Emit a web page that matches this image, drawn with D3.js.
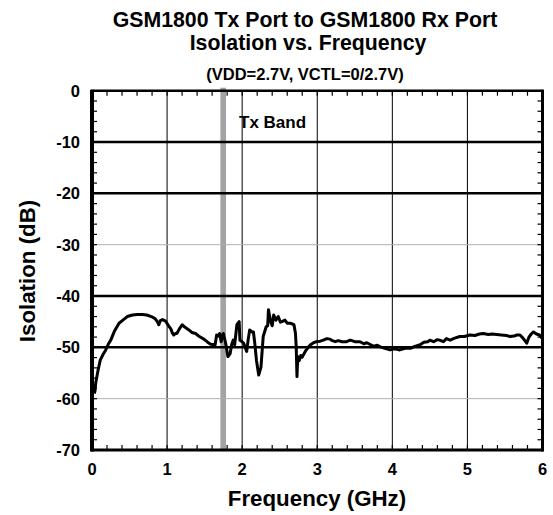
<!DOCTYPE html>
<html><head><meta charset="utf-8">
<script src="https://cdn.jsdelivr.net/npm/d3@7"></script>
<style>
html,body{margin:0;padding:0;background:#fff;}
svg text{font-family:"Liberation Sans",Arial,sans-serif;font-weight:bold;fill:#000;}
</style></head><body>
<svg id="c" width="553" height="515"></svg>
<script>
const titleLines = ["GSM1800 Tx Port to GSM1800 Rx Port", "Isolation vs. Frequency"];
const subtitle = "(VDD=2.7V, VCTL=0/2.7V)";
const xLabel = "Frequency (GHz)";
const yLabel = "Isolation (dB)";
const xTicks = [0, 1, 2, 3, 4, 5, 6];
const yTicks = [0, -10, -20, -30, -40, -50, -60, -70];
const boldGrid = [-10, -20, -40, -50];
const lightGrid = [-30, -60];
const txBand = [1.71, 1.785];
const txBandLabel = "Tx Band";

const freq = [0.03,0.04,0.05,0.08,0.11,0.15,0.18,0.22,0.25,0.30,0.36,0.42,0.47,0.54,0.60,0.67,0.73,0.79,0.84,0.87,0.89,0.91,0.94,0.98,1.02,1.05,1.07,1.09,1.11,1.13,1.16,1.20,1.24,1.29,1.33,1.38,1.43,1.49,1.54,1.58,1.64,1.66,1.68,1.70,1.72,1.74,1.75,1.78,1.81,1.84,1.86,1.88,1.90,1.93,1.96,1.97,2.00,2.02,2.06,2.08,2.10,2.13,2.15,2.17,2.19,2.22,2.25,2.28,2.32,2.34,2.35,2.38,2.40,2.42,2.45,2.48,2.51,2.53,2.57,2.60,2.64,2.69,2.71,2.72,2.73,2.74,2.76,2.78,2.80,2.84,2.88,2.91,2.95,2.99,3.04,3.08,3.13,3.17,3.20,3.24,3.28,3.33,3.39,3.44,3.50,3.57,3.62,3.66,3.70,3.75,3.80,3.84,3.90,3.97,4.03,4.10,4.17,4.24,4.30,4.37,4.42,4.47,4.50,4.55,4.60,4.63,4.68,4.72,4.77,4.83,4.90,4.96,5.03,5.10,5.16,5.21,5.28,5.33,5.39,5.45,5.52,5.57,5.62,5.66,5.70,5.74,5.77,5.79,5.82,5.85,5.88,5.92,5.96,5.99];
const iso = [-59.0,-58.5,-56.9,-54.5,-52.5,-51.3,-50.6,-49.3,-48.6,-46.8,-45.3,-44.6,-44.0,-43.7,-43.6,-43.6,-43.7,-44.0,-44.4,-45.0,-45.6,-44.8,-44.6,-44.9,-45.8,-46.4,-47.2,-47.6,-47.3,-47.3,-46.5,-45.6,-46.1,-46.6,-47.1,-47.3,-47.9,-48.4,-49.0,-49.4,-49.5,-47.6,-47.8,-47.3,-48.9,-47.5,-47.3,-49.2,-51.8,-51.2,-49.5,-48.6,-49.5,-45.6,-45.0,-48.6,-48.9,-49.2,-50.8,-48.5,-46.6,-47.0,-47.0,-49.5,-52.5,-55.4,-53.9,-47.9,-46.0,-45.8,-42.7,-45.0,-45.8,-43.7,-44.7,-44.0,-45.1,-45.0,-44.7,-45.3,-45.3,-45.6,-47.3,-50.0,-55.7,-51.8,-52.6,-51.6,-51.9,-50.8,-50.0,-49.5,-49.1,-48.9,-48.8,-48.6,-48.3,-48.4,-48.7,-48.9,-48.7,-48.9,-48.9,-48.6,-48.9,-48.9,-49.3,-49.1,-49.4,-49.8,-49.6,-49.9,-50.2,-50.5,-50.3,-50.5,-50.2,-50.2,-49.8,-49.5,-49.0,-48.9,-48.6,-48.9,-48.5,-48.6,-48.9,-48.3,-48.6,-48.2,-47.9,-47.9,-47.6,-47.7,-47.4,-47.3,-47.5,-47.4,-47.5,-47.6,-47.7,-47.9,-47.8,-47.6,-47.6,-48.2,-48.8,-49.2,-48.0,-47.4,-47.0,-47.4,-47.6,-48.2];

const svg = d3.select("#c");
const L = 92, R = 542.5, T = 90.7, B = 450;
const x = d3.scaleLinear().domain([0, 6]).range([L, R]);
const y = d3.scaleLinear().domain([-70, 0]).range([B, T]);

// Tx band
svg.append("rect").attr("x", x(txBand[0])).attr("width", x(txBand[1]) - x(txBand[0]))
  .attr("y", T - 3).attr("height", B - T + 4).attr("fill", "#a3a3a3");

// grid
svg.append("g").selectAll("line").data([1,2,3,4,5]).join("line")
  .attr("x1", d => x(d)).attr("x2", d => x(d)).attr("y1", T).attr("y2", B)
  .attr("stroke", "#000").attr("stroke-width", 1);
svg.append("g").selectAll("line").data(lightGrid).join("line")
  .attr("x1", L).attr("x2", R).attr("y1", d => y(d)).attr("y2", d => y(d))
  .attr("stroke", "#b0b0b0").attr("stroke-width", 1);
svg.append("g").selectAll("line").data(boldGrid).join("line")
  .attr("x1", L).attr("x2", R).attr("y1", d => y(d)).attr("y2", d => y(d))
  .attr("stroke", "#000").attr("stroke-width", 2.5);

// minor ticks
const xMinor = d3.range(0, 6.001, 0.2);
const yMinor = d3.range(-70, 0.001, 2);
const tk = svg.append("g").attr("stroke", "#000").attr("stroke-width", 1.2);
tk.selectAll(".xb").data(xMinor).join("line").attr("x1", d => x(d)).attr("x2", d => x(d)).attr("y1", B).attr("y2", B - 5);
tk.selectAll(".xt").data(xMinor).join("line").attr("x1", d => x(d)).attr("x2", d => x(d)).attr("y1", T).attr("y2", T + 5);
tk.selectAll(".yl").data(yMinor).join("line").attr("x1", L).attr("x2", L + 5).attr("y1", d => y(d)).attr("y2", d => y(d));
tk.selectAll(".yr").data(yMinor).join("line").attr("x1", R).attr("x2", R - 5).attr("y1", d => y(d)).attr("y2", d => y(d));

// frame
svg.append("line").attr("x1", L - 1).attr("x2", R + 1).attr("y1", T).attr("y2", T).attr("stroke", "#000").attr("stroke-width", 2.5);
svg.append("line").attr("x1", L - 1).attr("x2", R + 1).attr("y1", B).attr("y2", B).attr("stroke", "#000").attr("stroke-width", 3);
svg.append("line").attr("x1", L).attr("x2", L).attr("y1", T - 1).attr("y2", B + 1.5).attr("stroke", "#000").attr("stroke-width", 4);
svg.append("line").attr("x1", R).attr("x2", R).attr("y1", T - 1).attr("y2", B + 1.5).attr("stroke", "#000").attr("stroke-width", 3);

// curve
const line = d3.line().x(d => x(d[0])).y(d => y(d[1]));
svg.append("path").datum(freq.map((f, i) => [f, iso[i]]))
  .attr("d", line).attr("fill", "none").attr("stroke", "#000").attr("stroke-width", 3)
  .attr("stroke-linejoin", "round");

// tick labels
svg.append("g").selectAll("text").data(yTicks).join("text")
  .attr("x", 80).attr("y", d => y(d)).attr("dy", "0.36em").attr("text-anchor", "end")
  .attr("font-size", 16.5).text(d => d);
svg.append("g").selectAll("text").data(xTicks).join("text")
  .attr("x", d => x(d)).attr("y", 469).attr("dy", "0.36em").attr("text-anchor", "middle")
  .attr("font-size", 16.5).text(d => d);

// Tx band label
svg.append("text").attr("x", 239).attr("y", 128).attr("font-size", 17).text(txBandLabel);

// titles
svg.append("text").attr("x", 305).attr("y", 27).attr("text-anchor", "middle").attr("font-size", 21.3).text(titleLines[0]);
svg.append("text").attr("x", 308).attr("y", 50).attr("text-anchor", "middle").attr("font-size", 21.3).text(titleLines[1]);
svg.append("text").attr("x", 305).attr("y", 80).attr("text-anchor", "middle").attr("font-size", 16.5).text(subtitle);
svg.append("text").attr("x", 317).attr("y", 506).attr("text-anchor", "middle").attr("font-size", 22.3).text(xLabel);
svg.append("text").attr("transform", "translate(35,271) rotate(-90)").attr("text-anchor", "middle").attr("font-size", 22.3).text(yLabel);
</script>
</body></html>
